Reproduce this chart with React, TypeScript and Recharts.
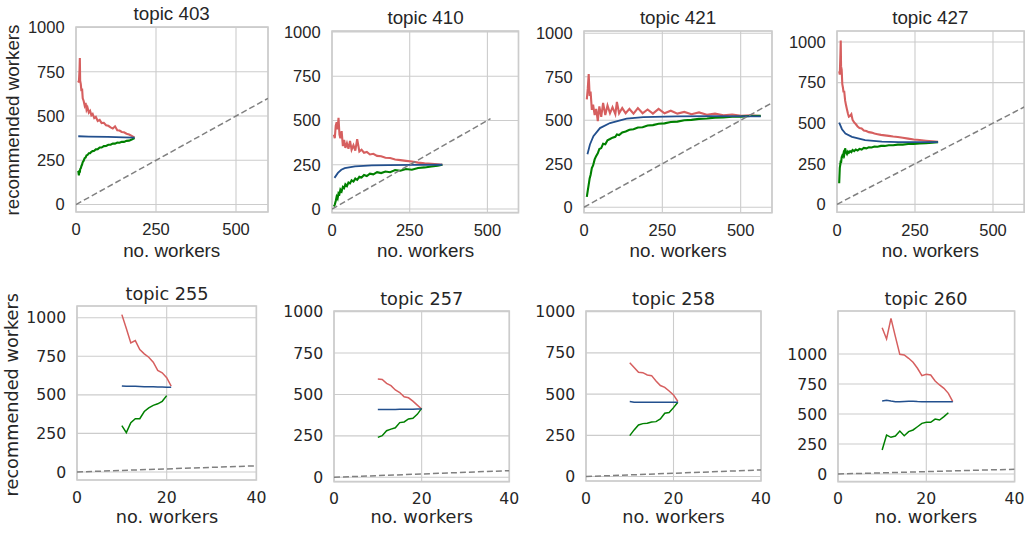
import { CartesianGrid, Line, LineChart, ReferenceArea, XAxis, YAxis } from 'recharts'

const RED = '#d65f5f'
const BLUE = '#23508e'
const GREEN = '#008000'
const GREY = '#808080'
const GRID = '#cccccc'
const INK = '#262626'

// ---- topic 403 ----
const t403X = [7, 9, 11, 12, 13, 15, 17, 19, 21, 24, 27, 30, 33, 36, 40, 44, 48, 52, 57, 62, 68, 74, 80, 87, 94, 101, 108, 115, 122, 129, 136, 143, 150, 158, 166, 174, 183]
const t403Red = [700, 690, 760, 828, 700, 680, 640, 655, 600, 585, 560, 575, 535, 548, 520, 530, 505, 512, 488, 495, 472, 478, 460, 462, 448, 445, 436, 430, 442, 420, 418, 410, 408, 400, 396, 388, 378]
const t403Green = [190, 165, 195, 180, 200, 205, 218, 226, 240, 248, 262, 266, 278, 280, 290, 290, 298, 302, 304, 312, 313, 322, 322, 330, 331, 338, 338, 345, 344, 350, 349, 355, 354, 360, 361, 367, 376]
const t403BlueX = [7, 40, 100, 150, 183]
const t403Blue = [386, 384, 382, 380, 378]

// ---- topic 410 ----
const t410X = [6, 9, 12, 15, 18, 21, 24, 27, 31, 35, 39, 43, 48, 53, 58, 63, 69, 75, 81, 88, 95, 103, 112, 122, 133, 145, 158, 172, 187, 203, 220, 238, 257, 277, 298, 320, 340, 355]
const t410Red = [420, 400, 470, 490, 450, 515, 420, 400, 440, 355, 390, 345, 372, 340, 385, 335, 360, 330, 395, 325, 335, 318, 322, 308, 312, 300, 298, 290, 288, 280, 276, 272, 268, 262, 258, 255, 252, 250]
const t410Green = [15, 25, 45, 70, 60, 90, 85, 110, 100, 125, 118, 140, 130, 150, 145, 162, 155, 172, 165, 182, 178, 192, 186, 200, 196, 208, 203, 212, 208, 220, 216, 226, 222, 232, 235, 240, 244, 250]
const t410BlueX = [8, 19, 30, 41, 74, 128, 182, 260, 355]
const t410Blue = [176, 204, 222, 231, 241, 246, 248, 249, 250]

// ---- topic 421 ----
const t421X = [9, 12, 15, 18, 21, 25, 29, 34, 39, 44, 49, 55, 61, 68, 75, 83, 91, 100, 105, 112, 122, 133, 145, 158, 172, 187, 203, 220, 238, 257, 277, 298, 320, 343, 367, 392, 418, 445, 473, 502, 532, 564]
const t421Red = [620, 680, 765, 640, 665, 560, 590, 530, 565, 495, 580, 520, 600, 530, 585, 540, 575, 535, 605, 540, 570, 540, 565, 538, 570, 540, 562, 538, 565, 540, 555, 538, 548, 535, 545, 532, 538, 528, 533, 526, 528, 524]
const t421Green = [60, 95, 130, 165, 185, 225, 240, 275, 295, 310, 335, 340, 365, 362, 385, 392, 400, 405, 418, 415, 430, 435, 445, 448, 458, 460, 470, 472, 480, 482, 490, 492, 500, 502, 508, 510, 515, 516, 520, 521, 524, 525]
const t421BlueX = [11, 19, 30, 51, 83, 136, 189, 296, 402, 564]
const t421Blue = [304, 361, 408, 455, 484, 509, 518, 522, 524, 522]

// ---- topic 427 ----
const t427X = [7, 9, 11, 12, 13, 15, 17, 19, 21, 23, 26, 29, 32, 35, 38, 42, 46, 50, 55, 60, 66, 72, 79, 86, 94, 102, 111, 120, 130, 141, 153, 166, 180, 195, 211, 228, 246, 265, 285, 305, 324]
const t427Red = [820, 800, 930, 1010, 850, 830, 740, 720, 690, 700, 640, 610, 585, 560, 540, 545, 555, 520, 505, 495, 480, 470, 468, 455, 452, 445, 442, 436, 432, 428, 425, 422, 418, 415, 410, 405, 400, 396, 392, 388, 385]
const t427Green = [130, 225, 250, 270, 255, 290, 300, 295, 315, 305, 345, 320, 310, 325, 318, 328, 322, 335, 328, 338, 332, 342, 338, 348, 345, 352, 350, 356, 355, 360, 360, 364, 364, 368, 368, 372, 372, 375, 377, 380, 383]
const t427BlueX = [7, 16, 27, 48, 90, 144, 197, 324]
const t427Blue = [504, 463, 436, 416, 396, 387, 383, 383]

// ---- topic 255 ----
const t255X = [10, 11, 12, 13, 14, 15, 16, 17, 18, 19, 20, 21]
const t255Red = [1020, 930, 837, 852, 794, 766, 744, 712, 658, 643, 611, 557]
const t255Blue = [558, 555, 556, 555, 554, 553, 553, 552, 551, 551, 550, 550]
const t255Green = [300, 255, 320, 345, 345, 392, 415, 432, 442, 458, 495]

// ---- topic 257 ----
const t257X = [10, 11, 12, 13, 14, 15, 16, 17, 18, 19, 20]
const t257Red = [593, 591, 567, 553, 527, 512, 486, 480, 460, 436, 412]
const t257Blue = [410, 410, 410, 410, 410, 411, 411, 411, 411, 412, 412]
const t257Green = [241, 251, 281, 291, 299, 330, 334, 352, 356, 380, 416]

// ---- topic 258 ----
const t258X = [10, 11, 12, 13, 14, 15, 16, 17, 18, 19, 20, 21]
const t258Red = [690, 661, 632, 630, 616, 612, 580, 552, 541, 519, 495, 455]
const t258Blue = [455, 451, 451, 451, 451, 451, 451, 451, 451, 451, 451, 451]
const t258Green = [248, 283, 313, 321, 323, 331, 333, 349, 384, 388, 418, 451]

// ---- topic 260 ----
const t260X = [10, 11, 12, 13, 14, 15, 16, 17, 18, 19, 20, 21, 22, 23, 24, 25, 26]
const t260Red = [1219, 1125, 1297, 1144, 997, 992, 964, 931, 881, 819, 831, 825, 775, 742, 714, 672, 603]
const t260Blue = [608, 614, 608, 603, 603, 605, 606, 606, 604, 603, 603, 603, 603, 603, 602, 602, 603]
const t260Green = [200, 325, 306, 317, 358, 319, 353, 367, 394, 422, 431, 431, 458, 450, 478, 511]

// y = x reference line
const diagTop = [0, 600]
const diag410 = [0, 510]
const diagBottom = [0, 40]

const topXTicks = [0, 250, 500]
const bottomXTicks = [0, 20, 40]
const yTicks = [0, 250, 500, 750, 1000]

type Pt = { x: number; y: number }
const zip = (xs: number[], ys: number[]): Pt[] => ys.map((y, i) => ({ x: xs[i], y }))
const diag = (d: number[]): Pt[] => d.map((v) => ({ x: v, y: v }))

interface Panel {
  title: string
  row: 0 | 1
  box: [number, number, number, number] // plot left, top, right, bottom (px)
  yDomain: [number, number]
  titleY: number
  red: Pt[]
  blue: Pt[]
  green: Pt[]
  ref: Pt[]
}

const PANELS: Panel[] = [
  { title: 'topic 403', row: 0, box: [75.7, 26.7, 267.7, 211.7], yDomain: [-42, 1003], titleY: 19.5,
    red: zip(t403X, t403Red), blue: zip(t403BlueX, t403Blue), green: zip(t403X, t403Green), ref: diag(diagTop) },
  { title: 'topic 410', row: 0, box: [332.3, 30.7, 518.8, 212.3], yDomain: [-20, 1005], titleY: 24,
    red: zip(t410X, t410Red), blue: zip(t410BlueX, t410Blue), green: zip(t410X, t410Green), ref: diag(diag410) },
  { title: 'topic 421', row: 0, box: [584, 30.5, 772, 212.3], yDomain: [-32, 1013], titleY: 24,
    red: zip(t421X, t421Red), blue: zip(t421BlueX, t421Blue), green: zip(t421X, t421Green), ref: diag(diagTop) },
  { title: 'topic 427', row: 0, box: [836.7, 30.7, 1023.9, 212], yDomain: [-49, 1068], titleY: 24,
    red: zip(t427X, t427Red), blue: zip(t427BlueX, t427Blue), green: zip(t427X, t427Green), ref: diag(diagTop) },
  { title: 'topic 255', row: 1, box: [77.3, 306.3, 256.7, 480.3], yDomain: [-52, 1076], titleY: 300.3,
    red: zip(t255X, t255Red), blue: zip(t255X, t255Blue), green: zip(t255X, t255Green), ref: diag(diagBottom) },
  { title: 'topic 257', row: 1, box: [334, 310.7, 509.3, 481.3], yDomain: [-26, 1004], titleY: 304.7,
    red: zip(t257X, t257Red), blue: zip(t257X, t257Blue), green: zip(t257X, t257Green), ref: diag(diagBottom) },
  { title: 'topic 258', row: 1, box: [586, 310.7, 761, 480.7], yDomain: [-27, 1004], titleY: 304.7,
    red: zip(t258X, t258Red), blue: zip(t258X, t258Blue), green: zip(t258X, t258Green), ref: diag(diagBottom) },
  { title: 'topic 260', row: 1, box: [837.7, 310.7, 1014.3, 481.3], yDomain: [-63, 1358], titleY: 304.7,
    red: zip(t260X, t260Red), blue: zip(t260X, t260Blue), green: zip(t260X, t260Green), ref: diag(diagBottom) },
]

const FONTS = [
  { family: "'Liberation Sans', Arial, sans-serif", tick: 16.5, label: 18.8, xLabelY: 256.8, lw: 2.1 },
  { family: "'DejaVu Sans', sans-serif", tick: 15.7, label: 17.7, xLabelY: 523, lw: 1.5 },
]

const YW = 60
const XH = 40
const MT = 10
const MR = 15

function SmallChart({ p }: { p: Panel }) {
  const [l, t, r, b] = p.box
  const left = l - YW
  const top = t - MT
  const width = r + MR - left
  const height = b + XH - top
  const f = FONTS[p.row]
  const xDomain: [number, number] = p.row === 0 ? [0, 600] : [0, 40]
  const tick = { fontSize: f.tick, fill: INK, fontFamily: f.family }

  return (
    <div style={{ position: 'absolute', left, top }}>
      <LineChart width={width} height={height} margin={{ top: MT, right: MR, bottom: 0, left: 0 }}>
        <CartesianGrid stroke={GRID} strokeWidth={1.1} />
        <ReferenceArea
          x1={xDomain[0]}
          x2={xDomain[1]}
          y1={p.yDomain[0]}
          y2={p.yDomain[1]}
          fill="none"
          stroke={GRID}
          strokeWidth={1.6}
        />
        <XAxis
          type="number"
          dataKey="x"
          domain={xDomain}
          ticks={p.row === 0 ? topXTicks : bottomXTicks}
          allowDataOverflow
          interval={0}
          tickLine={false}
          axisLine={false}
          tickMargin={5.6}
          height={XH}
          tick={tick}
        />
        <YAxis
          type="number"
          domain={p.yDomain}
          ticks={yTicks}
          allowDataOverflow
          interval={0}
          tickLine={false}
          axisLine={false}
          tickMargin={p.row === 0 ? 5.4 : 4.7}
          width={YW}
          tick={tick}
        />
        <Line data={p.red} dataKey="y" name="red" stroke={RED} strokeWidth={f.lw} dot={false} isAnimationActive={false} />
        <Line data={p.green} dataKey="y" name="green" stroke={GREEN} strokeWidth={f.lw} dot={false} isAnimationActive={false} />
        <Line data={p.blue} dataKey="y" name="blue" stroke={BLUE} strokeWidth={p.row === 0 ? 1.8 : 1.5} dot={false} isAnimationActive={false} />
        <Line data={p.ref} dataKey="y" name="ref" stroke={GREY} strokeWidth={1.5} strokeDasharray="6 3" dot={false} isAnimationActive={false} />
      </LineChart>
    </div>
  )
}

export default function App() {
  return (
    <div style={{ position: 'absolute', left: 0, top: 0, width: 1029, height: 533, background: '#fff', overflow: 'hidden' }}>
      {PANELS.map((p) => (
        <SmallChart key={p.title} p={p} />
      ))}

      {/* titles and axis labels */}
      <svg width={1029} height={533} style={{ position: 'absolute', left: 0, top: 0, pointerEvents: 'none' }}>
        {PANELS.map((p) => {
          const f = FONTS[p.row]
          const cx = (p.box[0] + p.box[2]) / 2
          return (
            <g key={p.title} fill={INK} fontFamily={f.family} fontSize={f.label} textAnchor="middle">
              <text x={cx} y={p.titleY}>{p.title}</text>
              <text x={cx} y={f.xLabelY}>no. workers</text>
            </g>
          )
        })}
        <text
          transform="translate(18.5,120) rotate(-90)"
          textAnchor="middle"
          fill={INK}
          fontFamily={FONTS[0].family}
          fontSize={FONTS[0].label}
        >
          recommended workers
        </text>
        <text
          transform="translate(18.3,394.7) rotate(-90)"
          textAnchor="middle"
          fill={INK}
          fontFamily={FONTS[1].family}
          fontSize={FONTS[1].label}
        >
          recommended workers
        </text>
      </svg>
    </div>
  )
}
